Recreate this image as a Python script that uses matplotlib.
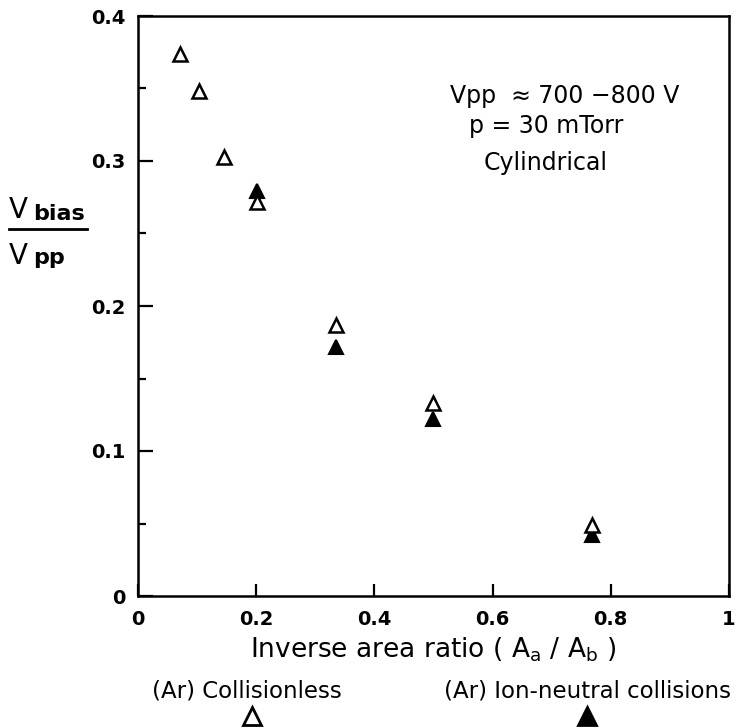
"""V_bias / V_pp against the inverse area ratio, cylindrical geometry."""
import matplotlib
matplotlib.use("Agg")
import matplotlib.pyplot as plt
from matplotlib.lines import Line2D
from matplotlib.ticker import FixedLocator, MultipleLocator

# inverse area ratio A_a / A_b
area_ratio_open = [0.071, 0.103, 0.146, 0.201, 0.335, 0.499, 0.768]
bias_open = [0.374, 0.348, 0.303, 0.272, 0.187, 0.133, 0.049]

area_ratio_filled = [0.201, 0.335, 0.499, 0.768]
bias_filled = [0.279, 0.172, 0.122, 0.042]

x_ticks = [0, 0.2, 0.4, 0.6, 0.8, 1.0]
x_tick_labels = ["0", "0.2", "0.4", "0.6", "0.8", "1"]
y_ticks = [0, 0.1, 0.2, 0.3, 0.4]
y_tick_labels = ["0", "0.1", "0.2", "0.3", "0.4"]

plt.rcParams["font.family"] = ["DejaVu Sans"]
plt.rcParams["mathtext.fontset"] = "dejavusans"

W, H = 737, 728
fig = plt.figure(figsize=(W / 100, H / 100), dpi=100)
ax = fig.add_axes([138 / W, 1 - 596 / H, 591 / W, 580 / H])

ax.plot(area_ratio_filled, bias_filled, linestyle="none", marker="^",
        ms=10, mfc="black", mec="black", mew=1.5)
ax.plot(area_ratio_open, bias_open, linestyle="none", marker="^",
        ms=10, mfc="white", mec="black", mew=1.8)

ax.set_xlim(0, 1)
ax.set_ylim(0, 0.4)
ax.xaxis.set_major_locator(FixedLocator(x_ticks))
ax.set_xticklabels(x_tick_labels, fontsize=14, fontweight="bold")
ax.yaxis.set_major_locator(FixedLocator(y_ticks))
ax.set_yticklabels(y_tick_labels, fontsize=14, fontweight="bold")
ax.yaxis.set_minor_locator(MultipleLocator(0.05))

ax.tick_params(axis="both", which="major", direction="in", width=1.6)
ax.tick_params(axis="x", which="major", length=9, pad=10)
ax.tick_params(axis="y", which="major", length=11, pad=9)
ax.tick_params(axis="y", which="minor", direction="in", length=6, width=1.6)
for side in ["left", "bottom", "right", "top"]:
    ax.spines[side].set_linewidth(1.8)

ax.set_xlabel(r"Inverse area ratio ( A$_\mathregular{a}$ / A$_\mathregular{b}$ )",
              fontsize=19, labelpad=5)

# conditions text
ax.text((565 - 138) / 591, (596 - 96) / 580, "Vpp  \u2248 700 \u2212800 V",
        transform=ax.transAxes, ha="center", va="center", fontsize=17)
ax.text((546 - 138) / 591, (596 - 126) / 580, "p = 30 mTorr",
        transform=ax.transAxes, ha="center", va="center", fontsize=17)
ax.text((546 - 138) / 591, (596 - 163) / 580, "Cylindrical",
        transform=ax.transAxes, ha="center", va="center", fontsize=17)

# y label drawn as a fraction
fig.text(9 / W, 1 - 218 / H, "V", ha="left", va="baseline", fontsize=20)
fig.text(33 / W, 1 - 220 / H, "bias", ha="left", va="baseline", fontsize=16,
         fontweight="bold")
fig.text(9 / W, 1 - 264 / H, "V", ha="left", va="baseline", fontsize=20)
fig.text(33 / W, 1 - 264 / H, "pp", ha="left", va="baseline", fontsize=16,
         fontweight="bold")
fig.add_artist(Line2D([9 / W, 87 / W], [1 - 229 / H, 1 - 229 / H],
                      color="black", lw=2, transform=fig.transFigure))

# key below the axis label
fig.text(247 / W, 1 - 691 / H, "(Ar) Collisionless", ha="center", va="center",
         fontsize=16.5)
fig.text(588 / W, 1 - 691 / H, "(Ar) Ion-neutral collisions", ha="center",
         va="center", fontsize=16.5)
fig.add_artist(Line2D([252 / W], [1 - 716 / H], linestyle="none", marker="^",
                      ms=13, mfc="white", mec="black", mew=2,
                      transform=fig.transFigure))
fig.add_artist(Line2D([587 / W], [1 - 716 / H], linestyle="none", marker="^",
                      ms=13, mfc="black", mec="black", mew=2,
                      transform=fig.transFigure))

fig.savefig("out.png", dpi=100)
